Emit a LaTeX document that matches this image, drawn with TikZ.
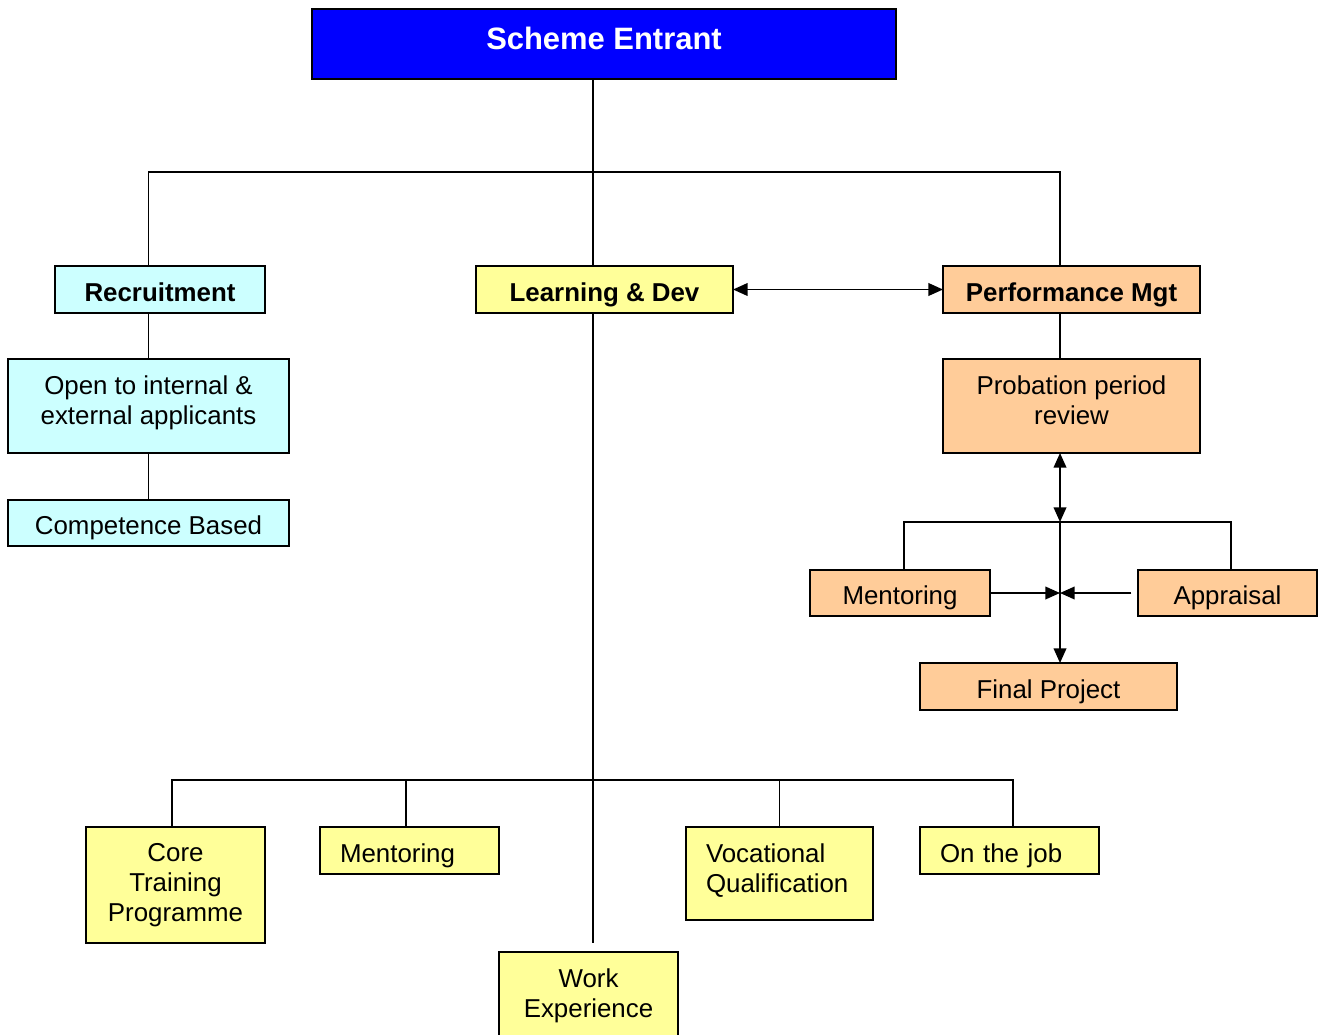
\documentclass[tikz,border=0pt]{standalone}
\usepackage{fontspec}
\setmainfont{Liberation Sans}
\usepackage{tikz}
\usetikzlibrary{positioning, arrows.meta}

\definecolor{entrant_blue}{RGB}{0,0,255}
\definecolor{pale_cyan}{RGB}{204,255,255}
\definecolor{pale_yellow}{RGB}{255,255,153}
\definecolor{pale_orange}{RGB}{255,204,153}

% fixed line heights so that every box sets its text at the same level
\newcommand{\oneline}[1]{\rule{0pt}{17.5pt}\smash{#1}}
\newcommand{\twolines}[2]{\rule{0pt}{14.5pt}#1\\\smash{#2}\rule[-9pt]{0pt}{9pt}}

\begin{document}
\begin{tikzpicture}
    [
        x=0.75pt, y=-0.75pt,
        font=\fontsize{19.4pt}{22.5pt}\selectfont,
        base_box/.style={rectangle, draw=black, line width=1.3pt, inner sep=0pt, outer sep=0pt, align=center},
        blue_box/.style={base_box, fill=entrant_blue, text=white, font=\fontsize{23.2pt}{26pt}\selectfont\bfseries, text depth=9pt},
        cyan_box/.style={base_box, fill=pale_cyan},
        yellow_box/.style={base_box, fill=pale_yellow},
        orange_box/.style={base_box, fill=pale_orange},
        left_box/.style={align=left, inner xsep=15pt},
        link_line/.style={line width=1.3pt, color=black},
        arrow_line/.style={link_line, -{Triangle[length=11pt, width=9.5pt]}},
        both_line/.style={link_line, {Triangle[length=11pt, width=9.5pt]}-{Triangle[length=11pt, width=9.5pt]}},
    ]
        \useasboundingbox (0,0) rectangle (1326,1034);

        % top level
        \node[blue_box, minimum width=438pt, minimum height=52.5pt] (entrant) at (604,44) {Scheme Entrant};
        \node[cyan_box, minimum width=157.5pt, minimum height=35.25pt] (recruit) at (160,289.5) {\oneline{\bfseries Recruitment}};
        \node[yellow_box, minimum width=192.75pt, minimum height=35.25pt] (learn) at (604.5,289.5) {\oneline{\bfseries Learning \& Dev}};
        \node[orange_box, minimum width=192.75pt, minimum height=35.25pt] (perf) at (1071.5,289.5) {\oneline{\bfseries Performance Mgt}};

        % recruitment side
        \node[cyan_box, minimum width=210.75pt, minimum height=70.5pt] (open) at (148.5,406) {\twolines{Open to internal \&}{external applicants}};
        \node[cyan_box, minimum width=210.75pt, minimum height=34.5pt] (compet) at (148.5,523) {\oneline{Competence Based}};

        % performance side
        \node[orange_box, minimum width=192.75pt, minimum height=70.5pt] (prob) at (1071.5,406) {\twolines{Probation period}{review}};
        \node[orange_box, minimum width=135pt, minimum height=34.5pt] (mentor_p) at (900,593) {\oneline{Mentoring}};
        \node[orange_box, minimum width=134.25pt, minimum height=34.5pt] (apprais) at (1227.5,593) {\oneline{Appraisal}};
        \node[orange_box, minimum width=192.75pt, minimum height=35.25pt] (final) at (1048.5,686.5) {\oneline{Final Project}};

        % learning side
        \node[yellow_box, minimum width=134.25pt, minimum height=87pt] (core) at (175.5,885) {Core\\Training\\Programme};
        \node[yellow_box, left_box, minimum width=134.25pt, minimum height=35.25pt, text width=104.25pt] (mentor_y) at (409.5,850.5) {\oneline{Mentoring}};
        \node[yellow_box, left_box, minimum width=140.25pt, minimum height=69.75pt, text width=110.25pt] (vocat) at (779.5,873.5) {\twolines{Vocational}{Qualification}};
        \node[yellow_box, left_box, minimum width=134.25pt, minimum height=35.25pt, text width=104.25pt] (onjob) at (1009.5,850.5) {\oneline{On the job}};
        \node[yellow_box, minimum width=134.25pt, minimum height=66pt] (work) at (588.5,996) {Work\\Experience};

        \coordinate (hub_top) at (593,172);
        \coordinate (hub_perf) at (1060,522);
        \coordinate (hub_merge) at (1060,593);
        \coordinate (hub_learn) at (593,780);

        % connectors
        \draw[link_line] (entrant.south -| hub_top) -- (hub_top) -- (hub_top |- learn.north);
        \draw[link_line] (hub_top) -| (open.north |- recruit.north);
        \draw[link_line] (hub_top) -| (hub_perf |- perf.north);
        \draw[link_line] (open.north |- recruit.south) -- (open.north);
        \draw[link_line] (open.south) -- (compet.north);
        \draw[link_line] (hub_perf |- perf.south) -- (hub_perf |- prob.north);
        \draw[both_line] (learn.east) -- (perf.west);
        \draw[both_line] (hub_perf |- prob.south) -- (hub_perf);
        \draw[link_line] ([xshift=3pt]mentor_p.north) |- (hub_perf) -| ([xshift=2.6pt]apprais.north);
        \draw[arrow_line] (hub_perf) -- (hub_perf |- final.north);
        \draw[arrow_line] (mentor_p.east) -- (hub_merge);
        \draw[arrow_line, shorten <=5pt] (apprais.west) -- (hub_merge);
        \draw[link_line, shorten >=7pt] (hub_learn |- learn.south) -- (hub_learn |- work.north);
        \draw[link_line] ([xshift=-2.6pt]core.north) |- (hub_learn) -| ([xshift=2.6pt]onjob.north);
        \draw[link_line] ([xshift=-2.6pt]mentor_y.north) -- ([xshift=-2.6pt]mentor_y.north |- hub_learn);
        \draw[link_line] (vocat.north) -- (vocat.north |- hub_learn);
    \end{tikzpicture}
\end{document}
